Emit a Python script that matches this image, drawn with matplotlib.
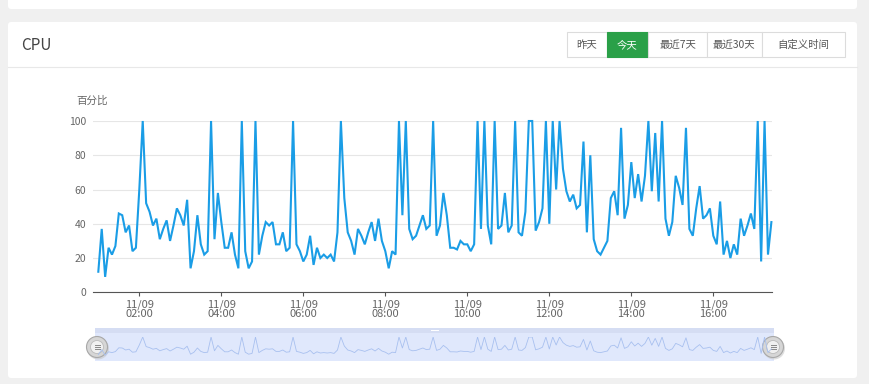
import numpy as np
import pandas as pd
import matplotlib
matplotlib.use("Agg")
import matplotlib.pyplot as plt
import matplotlib.dates as mdates
from matplotlib.patches import Rectangle, FancyBboxPatch, Circle

plt.rcParams["font.family"] = ["Noto Sans CJK SC", "DejaVu Sans"]

# CPU usage (%), one sample every 5 minutes from 01:00
cpu = [12, 37, 9, 26, 22, 27, 46, 45, 35, 39, 24, 26, 60, 100, 52, 47, 39, 43, 31, 37,
       42, 30, 39, 49, 45, 39, 54, 14, 24, 45, 28, 22, 24, 100, 31, 58, 41, 26, 26, 35,
       22, 14, 100, 24, 14, 18, 100, 22, 33, 41, 39, 41, 28, 28, 35, 24, 26, 100, 28, 24,
       18, 22, 33, 16, 26, 20, 22, 20, 22, 18, 35, 100, 55, 35, 30, 22, 37, 33, 28, 35,
       41, 30, 43, 30, 24, 14, 24, 22, 100, 45, 100, 37, 31, 33, 39, 45, 37, 39, 100, 33,
       39, 58, 45, 26, 26, 25, 30, 28, 28, 24, 28, 100, 37, 100, 39, 28, 100, 37, 39, 58,
       35, 39, 100, 35, 33, 47, 100, 100, 36, 41, 49, 100, 40, 100, 60, 100, 72, 59, 53, 57,
       49, 51, 88, 35, 80, 31, 24, 22, 26, 30, 55, 59, 45, 96, 43, 51, 76, 55, 69, 53,
       68, 100, 59, 93, 53, 100, 43, 33, 41, 68, 61, 51, 96, 37, 33, 49, 62, 43, 45, 49,
       33, 28, 53, 22, 30, 20, 28, 22, 43, 33, 39, 46, 37, 100, 18, 100, 22, 41]
times = pd.date_range("2023-11-09 01:00", periods=len(cpu), freq="5min")
x_ticks = pd.date_range("2023-11-09 02:00", "2023-11-09 16:00", freq="2h")
y_ticks = [0, 20, 40, 60, 80, 100]
buttons = ["昨天", "今天", "最近7天", "最近30天", "自定义时间"]
active = "今天"
x_range = (pd.Timestamp("2023-11-09 00:52:40"), pd.Timestamp("2023-11-09 17:26:20"))

W, H = 869, 384
LINE = "#1a9de6"
fig = plt.figure(figsize=(W / 100, H / 100), dpi=100)
fig.patch.set_facecolor("#f0f0f0")

# page decoration in pixel coordinates
bg = fig.add_axes([0, 0, 1, 1])
bg.set_xlim(0, W); bg.set_ylim(H, 0); bg.axis("off")
bg.add_patch(FancyBboxPatch((8, -10), 849, 19, boxstyle="round,pad=0,rounding_size=3",
                            fc="white", ec="none"))
bg.add_patch(FancyBboxPatch((8, 22), 849, 356, boxstyle="round,pad=0,rounding_size=3",
                            fc="white", ec="none"))
bg.plot([8, 857], [66.5, 66.5], color="#e8e8e8", lw=0.8)
bg.text(21, 45, "CPU", fontsize=11, color="#444", va="center", ha="left")

edges = [567.3, 606.7, 648.3, 706.7, 761.7, 845]
for lab, x0, x1 in zip(buttons, edges[:-1], edges[1:]):
    on = lab == active
    bg.add_patch(Rectangle((x0, 32.3), x1 - x0, 25, fc="#2aa048" if on else "white",
                           ec="#2aa048" if on else "#dcdcdc", lw=0.8))
    bg.text((x0 + x1) / 2, 45, lab, fontsize=7.5, color="white" if on else "#555",
            ha="center", va="center")

bg.text(92.5, 101, "百分比", fontsize=7.6, color="#666", ha="center", va="center")

# data zoom slider
bg.add_patch(Rectangle((95, 328), 679, 33, fc="#e0e8fc", ec="none"))
bg.add_patch(Rectangle((95, 328), 679, 5, fc="#d5ddf3", ec="none"))
bg.add_patch(Rectangle((431, 329.5), 8, 1.5, fc="white", ec="none"))
for cx in (97, 773):
    bg.add_patch(Circle((cx + 1, 348.5), 11, fc="#c8c8c8", ec="none", alpha=0.6))
    bg.add_patch(Circle((cx, 347), 10.5, fc="#d6d6d6", ec="#a8a8a8", lw=0.8))
    bg.add_patch(Circle((cx, 347), 6.5, fc="#f0f0f0", ec="#bbbbbb", lw=0.6))
    for dy in (-2, 0, 2):
        bg.plot([cx - 2.5, cx + 2.5], [347 + dy, 347 + dy], color="#888", lw=0.7)

# main chart
ax = fig.add_axes([93.3 / W, (H - 292.3) / H, 679 / W, 171.3 / H])
ax.set_facecolor("none")
ax.plot(times, cpu, color=LINE, lw=1.5, clip_on=False, zorder=3,
        solid_joinstyle="miter")
ax.set_xlim(*x_range)
ax.set_ylim(0, 100)
ax.set_yticks(y_ticks)
ax.set_xticks(x_ticks)
ax.xaxis.set_major_formatter(mdates.DateFormatter("%m/%d\n%H:%M"))
for lbl in ax.get_xticklabels():
    lbl.set_linespacing(0.95)
ax.grid(axis="y", color="#e6e6e6", lw=0.8)
ax.set_axisbelow(True)
for s in ("top", "right", "left"):
    ax.spines[s].set_visible(False)
ax.spines["bottom"].set_color("#555")
ax.spines["bottom"].set_linewidth(0.8)
ax.tick_params(axis="y", length=0, pad=5, labelsize=7.5, labelcolor="#666")
ax.tick_params(axis="x", length=3, width=0.8, color="#555", pad=2,
               labelsize=8, labelcolor="#666")

# mini overview line inside the slider
mini = fig.add_axes([93.3 / W, (H - 357) / H, 679 / W, 20 / H])
mini.plot(times, cpu, color="#a8c0ef", lw=0.6)
mini.set_xlim(*x_range)
mini.set_ylim(0, 100)
mini.axis("off")

fig.savefig("out.png", dpi=100, facecolor=fig.get_facecolor())
